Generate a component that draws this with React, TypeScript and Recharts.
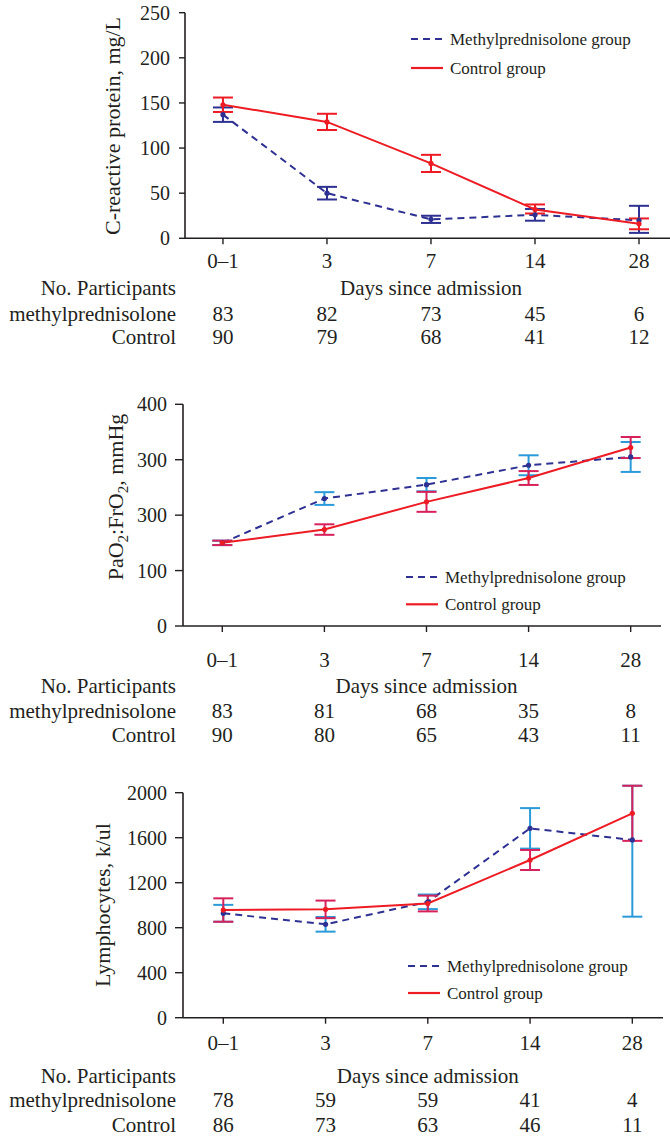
import React from "react";
import { LineChart, Line, XAxis, YAxis, ErrorBar, Legend } from "recharts";

const FONT = '"Liberation Serif", "Times New Roman", serif';
const INK = "#231f20";
const NAVY = "#2e3192";
const RED = "#ed1c24";
const LIGHT_BLUE = "#2b9ad8";
const CRIMSON = "#d6215b";

// ---------- shared categories ----------
const days = ["0–1", "3", "7", "14", "28"];
const rowHeaders = ["No. Participants", "methylprednisolone", "Control"];
const xTitle = "Days since admission";
const legendNames = ["Methylprednisolone group", "Control group"];

// ---------- C-reactive protein ----------
const crpMethyl = [137, 50, 21, 26, 20];
const crpMethylErrLow = [8, 7, 4, 6.5, 14];
const crpMethylErrHigh = [8, 7, 4, 6.5, 16];
const crpControl = [148, 129, 83, 32, 16];
const crpControlErrLow = [8, 9, 9.5, 4.5, 6];
const crpControlErrHigh = [8, 9, 9.5, 5.5, 6];
const crpTicks = [0, 50, 100, 150, 200, 250];
const crpTickLabels = ["0", "50", "100", "150", "200", "250"];
const crpNMethyl = [83, 82, 73, 45, 6];
const crpNControl = [90, 79, 68, 41, 12];

// ---------- PaO2:FiO2 ----------
const paoMethyl = [150, 230, 255, 290, 305];
const paoMethylErrLow = [4, 11.5, 12, 18, 27];
const paoMethylErrHigh = [4, 11.5, 12, 18, 27];
const paoControl = [150, 174, 224, 267, 322];
const paoControlErrLow = [4, 9.5, 18, 12.5, 19];
const paoControlErrHigh = [4, 9.5, 18, 12.5, 19];
const paoTicks = [0, 100, 200, 300, 400];
const paoTickLabels = ["0", "100", "300", "300", "400"];
const paoNMethyl = [83, 81, 68, 35, 8];
const paoNControl = [90, 80, 65, 43, 11];

// ---------- Lymphocytes ----------
const lymMethyl = [928, 830, 1030, 1683, 1580];
const lymMethylErrLow = [75, 65, 65, 180, 682];
const lymMethylErrHigh = [75, 65, 65, 180, 482];
const lymControl = [957, 963, 1015, 1402, 1817];
const lymControlErrLow = [104, 78, 70, 89, 245];
const lymControlErrHigh = [104, 78, 70, 89, 245];
const lymTicks = [0, 400, 800, 1200, 1600, 2000];
const lymTickLabels = ["0", "400", "800", "1200", "1600", "2000"];
const lymNMethyl = [78, 59, 59, 41, 4];
const lymNControl = [86, 73, 63, 46, 11];

function buildRows(m, mLo, mHi, c, cLo, cHi) {
  return days.map((d, i) => ({
    i,
    day: d,
    m: m[i],
    mErr: [mLo[i], mHi[i]],
    c: c[i],
    cErr: [cLo[i], cHi[i]],
  }));
}

const panels = [
  {
    key: "crp",
    top: 0,
    height: 360,
    plotTop: 12.7,
    plotBottom: 238.3,
    plotLeft: 185,
    right: 0,
    xDomain: [-0.365, 4.298],
    yDomain: [0, 250],
    yTicks: crpTicks,
    yTickLabels: crpTickLabels,
    yTickSize: 6,
    yTickMargin: 9,
    yLabel: [{ t: "C-reactive protein, mg/L" }],
    yLabelX: 120,
    yLabelY: 126,
    labelDy: 23.7,
    rowDy: [50.7, 76.4, 99.7],
    nM: crpNMethyl,
    nC: crpNControl,
    legendLeft: 411,
    legendRow: 39.3,
    legendGap: 29,
    errM: NAVY,
    errC: RED,
    overflow: false,
    data: buildRows(crpMethyl, crpMethylErrLow, crpMethylErrHigh, crpControl, crpControlErrLow, crpControlErrHigh),
  },
  {
    key: "pao",
    top: 380,
    height: 380,
    plotTop: 24.3,
    plotBottom: 246,
    plotLeft: 183,
    right: 9,
    xDomain: [-0.385, 4.297],
    yDomain: [0, 400],
    yTicks: paoTicks,
    yTickLabels: paoTickLabels,
    yTickSize: 8,
    yTickMargin: 8,
    yLabel: [
      { t: "PaO" },
      { t: "2", sub: true },
      { t: ":FrO" },
      { t: "2", sub: true },
      { t: ", mmHg" },
    ],
    yLabelX: 123.3,
    yLabelY: 117,
    labelDy: 34.7,
    rowDy: [61, 86, 110],
    nM: paoNMethyl,
    nC: paoNControl,
    legendLeft: 406,
    legendRow: 196.7,
    legendGap: 27.3,
    errM: LIGHT_BLUE,
    errC: CRIMSON,
    overflow: false,
    data: buildRows(paoMethyl, paoMethylErrLow, paoMethylErrHigh, paoControl, paoControlErrLow, paoControlErrHigh),
  },
  {
    key: "lym",
    top: 770,
    height: 377,
    plotTop: 22.7,
    plotBottom: 247.7,
    plotLeft: 183,
    right: 7,
    xDomain: [-0.394, 4.3],
    yDomain: [0, 2000],
    yTicks: lymTicks,
    yTickLabels: lymTickLabels,
    yTickSize: 8,
    yTickMargin: 8,
    yLabel: [{ t: "Lymphocytes, k/ul" }],
    yLabelX: 110,
    yLabelY: 135,
    labelDy: 26.3,
    rowDy: [59.3, 83.3, 108.3],
    nM: lymNMethyl,
    nC: lymNControl,
    legendLeft: 408,
    legendRow: 195.7,
    legendGap: 27,
    errM: LIGHT_BLUE,
    errC: CRIMSON,
    overflow: true,
    data: buildRows(lymMethyl, lymMethylErrLow, lymMethylErrHigh, lymControl, lymControlErrLow, lymControlErrHigh),
  },
];

const X_TICK_SIZE = 6;

function XTick(props) {
  const { x, y, payload, cfg } = props;
  const idx = Math.round(payload.value);
  const textStyle = { fontFamily: FONT, fontSize: 21, fill: INK };
  return (
    <g>
      <text x={x} y={y + cfg.labelDy} textAnchor="middle" style={textStyle}>
        {days[idx]}
      </text>
      <text x={x} y={y + cfg.rowDy[1]} textAnchor="middle" style={textStyle}>
        {cfg.nM[idx]}
      </text>
      <text x={x} y={y + cfg.rowDy[2]} textAnchor="middle" style={textStyle}>
        {cfg.nC[idx]}
      </text>
      {idx === 2 ? (
        <text x={x} y={y + cfg.rowDy[0]} textAnchor="middle" style={textStyle}>
          {xTitle}
        </text>
      ) : null}
      {idx === 0
        ? rowHeaders.map((h, k) => (
            <text key={h} x={176} y={y + cfg.rowDy[k]} textAnchor="end" style={textStyle}>
              {h}
            </text>
          ))
        : null}
    </g>
  );
}

function YTitle({ cfg }) {
  const x = cfg.yLabelX;
  const y = cfg.yLabelY;
  return (
    <text
      x={x}
      y={y}
      textAnchor="middle"
      transform={`rotate(-90, ${x}, ${y})`}
      style={{ fontFamily: FONT, fontSize: 22, fill: INK }}
    >
      {cfg.yLabel.map((p, k) =>
        p.sub ? (
          <tspan key={k} dy={5} fontSize={15}>
            {p.t}
          </tspan>
        ) : (
          <tspan key={k} dy={k > 0 && cfg.yLabel[k - 1].sub ? -5 : 0}>
            {p.t}
          </tspan>
        )
      )}
    </text>
  );
}

function LegendBox({ gap }) {
  const r1 = 12;
  const r2 = 12 + gap;
  const ts = { fontFamily: FONT, fontSize: 17, fill: INK };
  return (
    <svg width={270} height={r2 + 14} style={{ display: "block", overflow: "visible" }}>
      <line x1={0} x2={32} y1={r1} y2={r1} stroke={NAVY} strokeWidth={2.2} strokeDasharray="7 5" />
      <text x={39} y={r1 + 5.5} style={ts}>
        {legendNames[0]}
      </text>
      <line x1={0} x2={32} y1={r2} y2={r2} stroke={RED} strokeWidth={2.2} />
      <text x={39} y={r2 + 5.5} style={ts}>
        {legendNames[1]}
      </text>
    </svg>
  );
}

function Panel({ cfg }) {
  const xAxisHeight = cfg.height - cfg.plotBottom;
  return (
    <div style={{ position: "absolute", left: 0, top: cfg.top, width: 670, height: cfg.height }}>
      <LineChart
        width={670}
        height={cfg.height}
        data={cfg.data}
        margin={{ top: cfg.plotTop, right: cfg.right, bottom: 0, left: 0 }}
        style={{ fontFamily: FONT }}
      >
        <XAxis
          type="number"
          dataKey="i"
          domain={cfg.xDomain}
          ticks={[0, 1, 2, 3, 4]}
          interval={0}
          allowDataOverflow
          height={xAxisHeight}
          tickSize={X_TICK_SIZE}
          tickMargin={0}
          axisLine={{ stroke: INK, strokeWidth: 1.6 }}
          tickLine={{ stroke: INK, strokeWidth: 1.4 }}
          tick={(p) => <XTick {...p} cfg={cfg} />}
        />
        <YAxis
          type="number"
          domain={cfg.yDomain}
          ticks={cfg.yTicks}
          interval={0}
          allowDataOverflow={cfg.overflow}
          width={cfg.plotLeft}
          tickSize={cfg.yTickSize}
          tickMargin={cfg.yTickMargin}
          axisLine={{ stroke: INK, strokeWidth: 1.6 }}
          tickLine={{ stroke: INK, strokeWidth: 1.4 }}
          tick={{ fill: INK, fontSize: 20, fontFamily: FONT }}
          tickFormatter={(v) => {
            const k = cfg.yTicks.indexOf(v);
            return k >= 0 ? cfg.yTickLabels[k] : String(v);
          }}
          label={{ content: () => <YTitle cfg={cfg} /> }}
        />
        <Legend
          layout="vertical"
          verticalAlign="middle"
          align="center"
          wrapperStyle={{ left: cfg.legendLeft, top: cfg.legendRow - 12, width: 270 }}
          content={() => <LegendBox gap={cfg.legendGap} />}
        />
        <Line
          type="linear"
          dataKey="m"
          name={legendNames[0]}
          stroke={NAVY}
          strokeWidth={2}
          strokeDasharray="7 5"
          dot={{ r: 2.6, fill: NAVY, stroke: "none", strokeDasharray: "0" }}
          activeDot={false}
          isAnimationActive={false}
        >
          <ErrorBar dataKey="mErr" width={10} strokeWidth={2} stroke={cfg.errM} direction="y" isAnimationActive={false} />
        </Line>
        <Line
          type="linear"
          dataKey="c"
          name={legendNames[1]}
          stroke={RED}
          strokeWidth={2}
          dot={{ r: 2.6, fill: RED, stroke: "none" }}
          activeDot={false}
          isAnimationActive={false}
        >
          <ErrorBar dataKey="cErr" width={10} strokeWidth={2} stroke={cfg.errC} direction="y" isAnimationActive={false} />
        </Line>
      </LineChart>
    </div>
  );
}

export default function App() {
  return (
    <div
      style={{
        position: "absolute",
        left: 0,
        top: 0,
        width: 670,
        height: 1147,
        background: "#ffffff",
        overflow: "hidden",
      }}
    >
      {panels.map((p) => (
        <Panel key={p.key} cfg={p} />
      ))}
    </div>
  );
}
